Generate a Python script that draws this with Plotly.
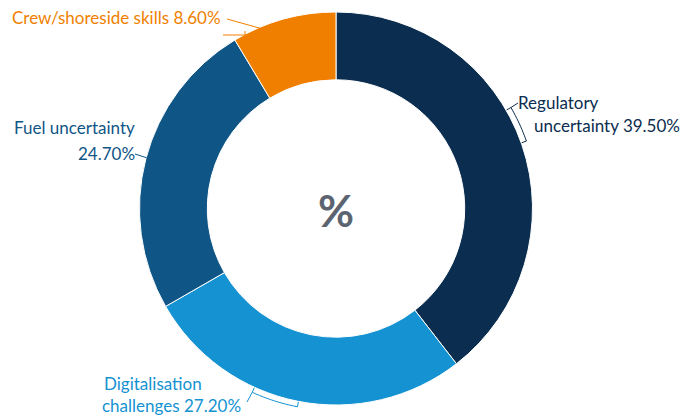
import math
import plotly.graph_objects as go

labels = ["Regulatory uncertainty", "Digitalisation challenges", "Fuel uncertainty", "Crew/shoreside skills"]
values = [39.5, 27.2, 24.7, 8.6]
colors = ["#0b2d4f", "#1592d1", "#0f5686", "#f07f00"]
# label lines: (first line, second line) – the value is appended to the last line
label_lines = [("Regulatory", "uncertainty"), ("Digitalisation", "challenges"),
               ("Fuel uncertainty", ""), ("Crew/shoreside skills", None)]

W, H = 699, 417
CX, CY, R = 336, 208.5, 196.5

def px(x):
    return x / W

def py(y):
    return 1 - y / H

def polar(angle_deg, r):
    a = math.radians(angle_deg)
    return CX + r * math.sin(a), CY - r * math.cos(a)

fig = go.Figure(go.Pie(
    labels=labels, values=values, sort=False, direction="clockwise", rotation=0,
    hole=0.655, textinfo="none", hoverinfo="label+percent",
    marker=dict(colors=colors, line=dict(color="white", width=1)),
    domain=dict(x=[0, 2 * CX / W], y=[1 - (CY + R) / H, 1 - (CY - R) / H]),
    showlegend=False,
))

font = "Lato, 'Noto Sans', sans-serif"
ann = []
shapes = []

def text(t, x, y, color, anchor="left"):
    ann.append(dict(text=t, x=px(x), y=py(y), xref="paper", yref="paper", showarrow=False,
                    xanchor=anchor, yanchor="middle", font=dict(family=font, size=17, color=color)))

def seg(p, q, color):
    shapes.append(dict(type="line", xref="paper", yref="paper", x0=px(p[0]), y0=py(p[1]),
                       x1=px(q[0]), y1=py(q[1]), line=dict(color=color, width=1)))

def bracket(a0, a1, color, rb=202, rt=197):
    pts = [polar(a0, rt)] + [polar(a0 + (a1 - a0) * i / 12, rb) for i in range(13)] + [polar(a1, rt)]
    d = "M " + " L ".join(f"{px(x):.5f},{py(y):.5f}" for x, y in pts)
    shapes.append(dict(type="path", xref="paper", yref="paper", path=d, line=dict(color=color, width=1)))

vals = [f"{v:.2f}%" for v in values]
# Regulatory
c = colors[0]
text(label_lines[0][0], 516, 102, c)
text(f"{label_lines[0][1]} {vals[0]}", 532, 125, c)
bracket(60, 70.5, c)
seg(polar(60, 202), (518, 103), c)
# Digitalisation
c = colors[1]
text(label_lines[1][0], 102, 383, c)
text(f"{label_lines[1][1]} {vals[1]}", 100, 405, c)
bracket(191, 204.5, c)
seg(polar(204.5, 202), (247, 402), c)
# Fuel
c = colors[2]
text(label_lines[2][0], 12, 128, c)
text(vals[2], 137, 154, c, anchor="right")
seg(polar(285, 196), (135, 154), c)
# Crew
c = colors[3]
text(f"{label_lines[3][0]} {vals[3]}", 10, 18, c)
seg((227, 19), (277, 33), c)
seg((223, 35), (245, 35), c)
seg((245, 31), (245, 38), c)

ann.append(dict(text="<b>%</b>", x=px(CX), y=py(CY + 1), xref="paper", yref="paper", showarrow=False,
                xanchor="center", yanchor="middle",
                font=dict(family=font, size=44, color="#5b6470")))

fig.update_layout(width=W, height=H, margin=dict(l=0, r=0, t=0, b=0),
                  paper_bgcolor="white", plot_bgcolor="white",
                  annotations=ann, shapes=shapes)
fig.write_html("out.html", config={"displayModeBar": False},
               post_script="document.body.style.margin='0px';")
